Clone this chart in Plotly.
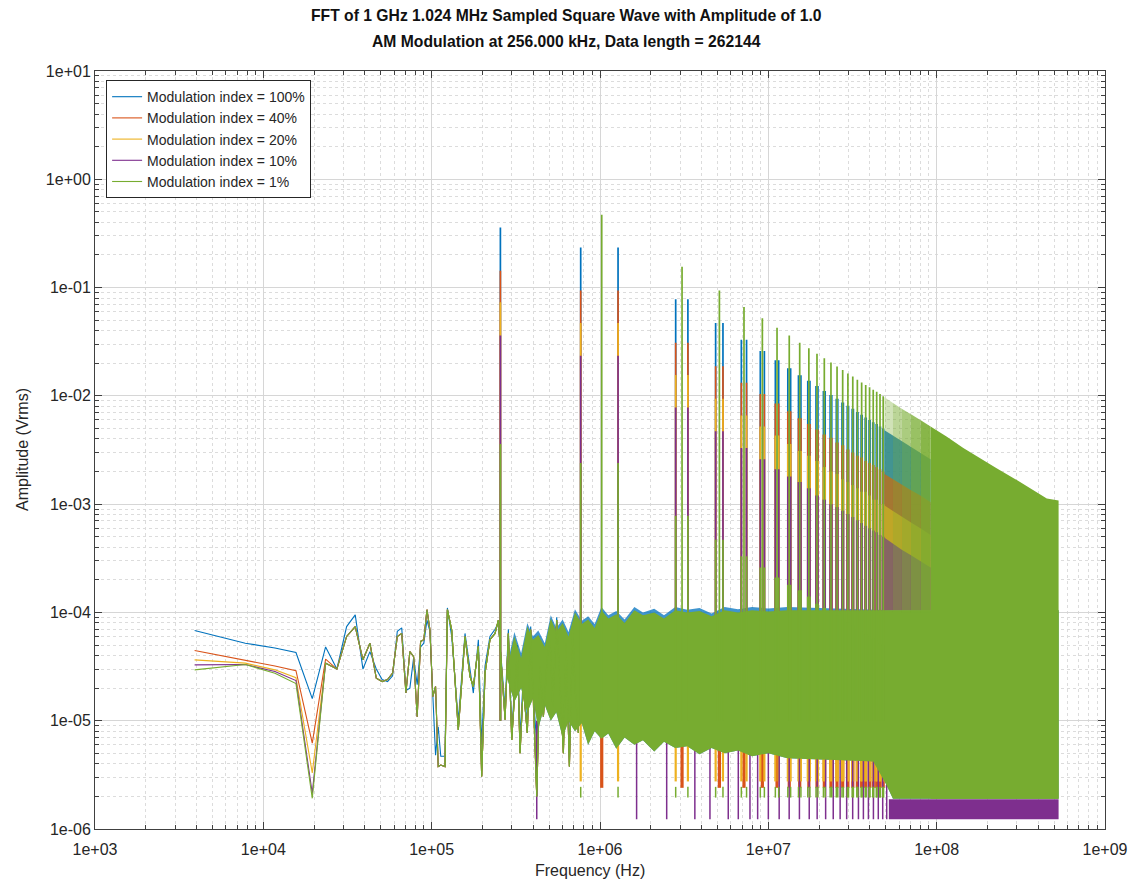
import plotly.graph_objects as go

# ---------------- data ----------------
series_names = ["Modulation index = 100%", "Modulation index = 40%",
                "Modulation index = 20%", "Modulation index = 10%",
                "Modulation index = 1%"]
series_colors = ["#0072BD", "#D95319", "#EDB120", "#7E2F8E", "#77AC30"]

x_tick_vals = [1e3, 1e4, 1e5, 1e6, 1e7, 1e8, 1e9]
x_tick_text = ["1e+03", "1e+04", "1e+05", "1e+06", "1e+07", "1e+08", "1e+09"]
y_tick_vals = [1e-6, 1e-5, 1e-4, 1e-3, 1e-2, 1e-1, 1e0, 1e1]
y_tick_text = ["1e-06", "1e-05", "1e-04", "1e-03", "1e-02", "1e-01", "1e+00", "1e+01"]

# low-frequency FFT bins (Hz) and amplitudes (Vrms)
lf_freq = [3906, 7813, 11719, 15625, 19531, 23438, 27344, 31250, 35156, 39063,
           42969, 46875, 50781, 54688, 58594, 62500, 66406, 70313, 74219, 78125,
           82031, 85938, 89844, 93750, 97656, 101563, 105469, 109375, 113281]
lf_blue = [6.8e-5, 5.2e-5, 4.7e-5, 4.26e-5, 1.6e-5, 4.8e-5, 3.0e-5, 7.4e-5, 9.5e-5, 3.0e-5,
           4.35e-5, 3.0e-5, 2.4e-5, 2.3e-5, 2.6e-5, 6.7e-5, 7.2e-5, 1.9e-5, 2.0e-5, 3.8e-5,
           2.15e-5, 4.8e-5, 5.2e-5, 8.5e-5, 6.7e-5, 1.55e-5, 4.8e-6, 8.8e-6, 4.7e-6]
lf_orange_head = [4.45e-5, 3.65e-5, 3.2e-5, 2.9e-5, 6.2e-6, 3.7e-5]
lf_yellow_head = [3.65e-5, 3.4e-5, 2.95e-5, 2.5e-5, 3.3e-6]
lf_purple_head = [3.28e-5, 3.3e-5, 2.85e-5, 2.35e-5, 2.14e-6]
lf_green = [2.95e-5, 3.3e-5, 2.75e-5, 2.2e-5, 1.92e-6, 3.4e-5, 3.0e-5, 6.0e-5, 7.4e-5, 3.65e-5,
            5.2e-5, 2.47e-5, 2.3e-5, 2.4e-5, 2.75e-5, 6.0e-5, 6.4e-5, 1.8e-5, 4.35e-5, 3.9e-5,
            1.09e-5, 5.4e-5, 5.6e-5, 1.06e-4, 6.9e-5, 1.67e-5, 2.07e-5, 3.77e-6, 3.9e-6]

# mid-band noise (read as a zig-zag), Hz / Vrms
mid_freq = [1.20e5, 1.24e5, 1.315e5, 1.44e5, 1.578e5, 1.69e5, 1.768e5, 1.894e5, 1.982e5, 2.075e5,
            2.22e5, 2.379e5, 2.49e5, 2.73e5, 2.855e5, 2.99e5, 3.23e5, 3.35e5, 3.50e5, 3.70e5,
            3.875e5, 4.055e5, 4.21e5, 4.40e5, 4.61e5, 4.87e5, 5.05e5, 5.24e5, 5.53e5, 5.79e5,
            6.06e5, 6.28e5, 6.58e5, 6.88e5, 7.1e5, 7.44e5]
mid_val = [3.77e-6, 1.06e-4, 6.9e-5, 8.2e-6, 6.0e-5, 2.56e-5, 2.07e-5, 4.85e-5, 3.05e-6, 2.75e-5,
           5.6e-5, 6.4e-5, 8.5e-5, 1.02e-5, 6.4e-5, 6.65e-6, 4.5e-5, 5.0e-6, 2.07e-5, 7.7e-6,
           6.9e-5, 1.17e-5, 2.0e-6, 3.16e-5, 1.09e-5, 3.9e-5, 5.6e-5, 1.35e-5, 8.5e-5, 2.07e-5,
           5.0e-6, 5.2e-5, 3.77e-6, 7.4e-5, 2.07e-5, 7.7e-6]
mid_blue_val = [4.7e-6, 1.1e-4, 6.0e-5, 1.0e-5, 6.4e-5, 3.0e-5, 1.8e-5, 5.6e-5, 6.0e-6, 3.2e-5,
                6.0e-5, 7.0e-5, 8.0e-5, 1.3e-5, 7.0e-5, 8.0e-6, 5.0e-5, 7.0e-6, 2.5e-5, 9.0e-6,
                7.4e-5, 1.4e-5, 6.0e-6, 3.6e-5, 1.3e-5, 4.4e-5, 6.4e-5, 1.6e-5, 9.0e-5, 2.5e-5,
                6.5e-6, 5.8e-5, 5.0e-6, 8.0e-5, 2.4e-5, 9.0e-6]

# dense noise band envelope (Hz / Vrms)
band_freq = [2.8e5, 3.1e5, 3.4e5, 3.7e5, 4.0e5, 4.3e5, 4.7e5, 5.1e5, 5.5e5, 6.0e5,
             6.5e5, 7.1e5, 7.8e5, 8.5e5, 9.3e5, 1.02e6, 1.12e6, 1.25e6, 1.4e6, 1.6e6,
             1.8e6, 2.1e6, 2.4e6, 2.8e6, 3.3e6, 3.9e6, 4.6e6, 5.5e6, 6.6e6, 8.0e6,
             1.0e7, 1.3e7, 2.0e7, 3.0e7, 4.2e7, 5.0e7, 5.5e7, 1.0e8, 2.0e8, 5.3e8]
green_band_hi = [3.0e-5, 6.0e-5, 3.8e-5, 7.4e-5, 5.6e-5, 6.2e-5, 4.8e-5, 8.8e-5, 6.6e-5, 8.0e-5,
                 6.0e-5, 1.0e-4, 7.8e-5, 8.6e-5, 7.2e-5, 1.05e-4, 8.8e-5, 9.6e-5, 8.0e-5, 1.05e-4,
                 9.4e-5, 1.0e-4, 8.8e-5, 1.05e-4, 1.0e-4, 1.03e-4, 9.2e-5, 1.05e-4, 1.0e-4, 1.05e-4,
                 1.02e-4, 1.05e-4, 1.05e-4, 1.05e-4, 1.05e-4, 1.05e-4, 1.05e-4, 1.05e-4, 1.05e-4, 1.05e-4]
green_band_lo = [2.5e-5, 1.5e-5, 2.0e-5, 1.2e-5, 1.6e-5, 8.5e-6, 1.4e-5, 1.0e-5, 1.2e-5, 7.0e-6,
                 1.0e-5, 8.0e-6, 9.5e-6, 6.0e-6, 8.0e-6, 6.8e-6, 7.6e-6, 5.5e-6, 7.0e-6, 6.0e-6,
                 6.6e-6, 5.2e-6, 6.4e-6, 5.6e-6, 5.8e-6, 4.9e-6, 5.6e-6, 5.0e-6, 5.3e-6, 4.7e-6,
                 5.0e-6, 4.5e-6, 4.4e-6, 4.3e-6, 4.2e-6, 2.6e-6, 1.9e-6, 1.9e-6, 1.9e-6, 1.9e-6]
blue_band_hi = [3.2e-5, 6.6e-5, 4.2e-5, 8.0e-5, 6.0e-5, 6.8e-5, 5.2e-5, 9.4e-5, 7.2e-5, 8.6e-5,
                6.6e-5, 1.07e-4, 8.4e-5, 9.2e-5, 7.8e-5, 1.12e-4, 9.4e-5, 1.03e-4, 8.6e-5, 1.12e-4,
                1.0e-4, 1.08e-4, 9.4e-5, 1.12e-4, 1.06e-4, 1.1e-4, 9.8e-5, 1.12e-4, 1.07e-4, 1.12e-4,
                1.09e-4, 1.12e-4, 1.1e-4, 1.08e-4, 1.06e-4, 1.05e-4, 1.05e-4, 1.05e-4, 1.05e-4, 1.05e-4]

# lower fringes of the 40% / 20% / 1% traces near each harmonic cluster
fringe_top = 1.0e-5
orange_fringe_bottom = 2.4e-6
yellow_fringe_bottom = 2.75e-6
green_tail_top = 2.45e-6
green_tail_bottom = 1.95e-6

# 10% trace: deep dips and bottom floor
purple_dip_freq = [4.21e5, 1.65e6, 2.49e6, 3.66e6, 4.5e6, 5.78e6, 6.63e6, 7.78e6, 8.64e6, 1.0e7,
                   1.16e7, 1.33e7, 1.53e7, 1.75e7, 1.95e7, 2.19e7, 2.43e7, 2.67e7, 2.92e7, 3.17e7,
                   3.43e7, 3.67e7, 3.93e7, 4.21e7, 4.5e7, 4.78e7, 5.05e7]
purple_dip_top = 1.0e-5
purple_dip_bottom = 1.23e-6
purple_floor_freq = [5.2e7, 5.3e8]
purple_floor_lo = [1.23e-6, 1.23e-6]
purple_floor_hi = [1.88e-6, 1.88e-6]

# spectral lines
mod_freq_mhz = 0.256
dc_sideband_amp = [0.359, 0.143, 0.073, 0.036, 0.0036]   # line at 256 kHz per series
harm_mhz = [1.024, 3.072, 5.12, 7.168, 9.216, 11.264, 13.312, 15.36, 17.408, 19.456,
            21.504, 23.552, 25.6, 27.648, 29.696, 31.744, 33.792, 35.84, 37.888, 39.936,
            41.984, 44.032, 46.08, 48.128]
carrier_amp = [0.47, 0.156, 0.094, 0.066, 0.052, 0.0425, 0.036, 0.031, 0.0275, 0.0245,
               0.0222, 0.0203, 0.0187, 0.0173, 0.0161, 0.0151, 0.0141, 0.0133, 0.0126, 0.012,
               0.0114, 0.0109, 0.0104, 0.0099]
sideband_amp = [
    [0.235, 0.078, 0.047, 0.033, 0.026, 0.0213, 0.018, 0.0155, 0.0138, 0.0123,
     0.0111, 0.0102, 0.0094, 0.0087, 0.0081, 0.0076, 0.0071, 0.0067, 0.0063, 0.006,
     0.0057, 0.0055, 0.0052, 0.005],
    [0.094, 0.031, 0.0188, 0.0132, 0.0104, 0.0085, 0.0072, 0.0062, 0.0055, 0.0049,
     0.0044, 0.0041, 0.0037, 0.0035, 0.0032, 0.003, 0.0028, 0.0027, 0.0025, 0.0024,
     0.0023, 0.0022, 0.0021, 0.002],
    [0.047, 0.0156, 0.0094, 0.0066, 0.0052, 0.0043, 0.0036, 0.0031, 0.0028, 0.0025,
     0.0022, 0.002, 0.0019, 0.0017, 0.0016, 0.0015, 0.0014, 0.0013, 0.0013, 0.0012,
     0.0011, 0.0011, 0.001, 0.001],
    [0.0235, 0.0078, 0.0047, 0.0033, 0.0026, 0.0021, 0.0018, 0.0016, 0.0014, 0.0012,
     0.0011, 0.001, 0.00094, 0.00087, 0.00081, 0.00076, 0.00071, 0.00067, 0.00063, 0.0006,
     0.00057, 0.00055, 0.00052, 0.0005],
    [0.0024, 0.00078, 0.00047, 0.00033, 0.00026, 0.00021, 0.00018, 0.00016, 0.00014, 0.00012,
     0.00011, 0.0001, 9.4e-5, 8.7e-5, 8.1e-5, 7.6e-5, 7.1e-5, 6.7e-5, 6.3e-5, 6.0e-5,
     5.7e-5, 5.5e-5, 5.2e-5, 5.0e-5],
]
spike_base = 1.0e-5

# densely packed lines (upper envelopes)
dense_freq = [4.9e7, 5.5e7, 6.2e7, 7.0e7, 8.0e7, 9.2e7]
dense_sideband_env = [
    [4.8e-3, 4.3e-3, 3.8e-3, 3.4e-3, 3.0e-3, 2.6e-3],
    [1.9e-3, 1.7e-3, 1.5e-3, 1.35e-3, 1.2e-3, 1.04e-3],
    [9.7e-4, 8.6e-4, 7.6e-4, 6.8e-4, 6.0e-4, 5.2e-4],
    [4.9e-4, 4.3e-4, 3.8e-4, 3.4e-4, 3.0e-4, 2.6e-4],
]
dense_carrier_env = [9.7e-3, 8.6e-3, 7.6e-3, 6.8e-3, 6.0e-3, 5.2e-3]
tail_freq = [9.2e7, 1.15e8, 1.44e8, 1.8e8, 2.27e8, 2.9e8, 3.59e8, 4.51e8, 5.3e8]
tail_carrier_env = [5.2e-3, 4.2e-3, 3.3e-3, 2.65e-3, 2.15e-3, 1.72e-3, 1.41e-3, 1.13e-3, 1.08e-3]
tail_floor = 1.9e-6

# ---------------- figure ----------------
FONT = "Liberation Sans, Arial, Helvetica, sans-serif"
fig = go.Figure()


def add_line(x, y, color, width=1.0, name=None, show=False, group=None):
    fig.add_trace(go.Scatter(x=x, y=y, mode="lines", name=name, showlegend=show,
                             legendgroup=group, hoverinfo="skip",
                             line=dict(color=color, width=width)))


def add_poly(xs, lo, hi, color, group):
    px = list(xs) + list(xs)[::-1]
    py = list(hi) + list(lo)[::-1]
    fig.add_trace(go.Scatter(x=px, y=py, mode="lines", fill="toself", fillcolor=color,
                             line=dict(width=0, color=color), showlegend=False,
                             legendgroup=group, hoverinfo="skip"))


def spikes(freqs, base, tops):
    xs, ys = [], []
    for f, t in zip(freqs, tops):
        xs += [f, f, None]
        ys += [base, t, None]
    return xs, ys


def rgba(hex_color, a):
    h = hex_color.lstrip("#")
    return "rgba(%d,%d,%d,%.2f)" % (int(h[0:2], 16), int(h[2:4], 16), int(h[4:6], 16), a)


lf_series = [
    lf_blue,
    lf_orange_head + lf_green[len(lf_orange_head):],
    lf_yellow_head + lf_green[len(lf_yellow_head):],
    lf_purple_head + lf_green[len(lf_purple_head):],
    lf_green,
]
mid_series = [mid_blue_val, mid_val, mid_val, mid_val, mid_val]

sb_lo_hz = [(f - mod_freq_mhz) * 1e6 for f in harm_mhz]
sb_hi_hz = [(f + mod_freq_mhz) * 1e6 for f in harm_mhz]
harm_hz = [f * 1e6 for f in harm_mhz]
sb_all_hz = sb_lo_hz + sb_hi_hz
overlay_alpha = [0.35, 0.5, 0.62, 0.75, 0.88]

for i in range(5):
    c = series_colors[i]
    g = "s%d" % i
    # legend-bearing main trace
    add_line(lf_freq + mid_freq, lf_series[i] + mid_series[i], c, 1.1, series_names[i], True, g)
    if i == 0:
        add_poly(band_freq, green_band_lo, blue_band_hi, rgba(c, 0.75), g)
    if i == 1:
        xs, ys = spikes(harm_hz, fringe_top, [orange_fringe_bottom] * len(harm_hz))
        add_line(xs, ys, c, 3.2, group=g)
    if i == 2:
        xs, ys = spikes(sb_all_hz, fringe_top, [yellow_fringe_bottom] * len(sb_all_hz))
        add_line(xs, ys, c, 2.2, group=g)
    if i == 3:
        xs, ys = spikes(purple_dip_freq, purple_dip_top, [purple_dip_bottom] * len(purple_dip_freq))
        add_line(xs, ys, c, 1.5, group=g)
        add_poly(purple_floor_freq, purple_floor_lo, purple_floor_hi, c, g)
    if i == 4:
        add_poly(band_freq, green_band_lo, green_band_hi, c, g)
        add_line(mid_freq, mid_val, c, 1.1, group=g)
        xs, ys = spikes(sb_all_hz, green_tail_top, [green_tail_bottom] * len(sb_all_hz))
        add_line(xs, ys, c, 1.5, group=g)
    # dense sideband region
    if i < 4:
        add_poly(dense_freq, [1.05e-4] * len(dense_freq), dense_sideband_env[i], rgba(c, 0.85), g)
    # 256 kHz line
    xs, ys = spikes([mod_freq_mhz * 1e6], spike_base, [dc_sideband_amp[i]])
    add_line(xs, ys, c, 1.7, group=g)
    # sidebands around each odd harmonic
    xs, ys = spikes(sb_all_hz, spike_base, sideband_amp[i] + sideband_amp[i])
    add_line(xs, ys, c, 1.7, group=g)
    if i == 4:
        xs, ys = spikes(harm_hz, spike_base, carrier_amp)
        add_line(xs, ys, c, 1.7, group=g)
        for k in range(len(dense_freq) - 1):
            add_poly(dense_freq[k:k + 2], [1.0e-4, 1.0e-4], dense_carrier_env[k:k + 2],
                     rgba(c, overlay_alpha[k]), g)
        add_poly(tail_freq, [tail_floor] * len(tail_freq), tail_carrier_env, c, g)

minor_x = [k * 10 ** d for d in range(3, 9) for k in range(2, 10)]
minor_y = [k * 10.0 ** d for d in range(-6, 1) for k in range(2, 10)]

axis_style = dict(
    type="log", showline=True, mirror="allticks", linecolor="#404040", linewidth=1,
    ticks="inside", ticklen=7, tickcolor="#404040", tickwidth=1, automargin=False,
    showgrid=True, gridcolor="#d6d6d6", gridwidth=1, zeroline=False,
    tickfont=dict(family=FONT, size=16, color="#262626"),
)

fig.update_xaxes(**axis_style, range=[3, 9], tickmode="array", tickvals=x_tick_vals,
                 ticktext=x_tick_text, ticklabelstandoff=6,
                 minor=dict(tickmode="array", tickvals=minor_x, ticks="inside", ticklen=4,
                            tickcolor="#404040", showgrid=True, gridcolor="#dcdcdc",
                            griddash="dot", gridwidth=1))
fig.update_yaxes(**axis_style, range=[-6, 1], tickmode="array", tickvals=y_tick_vals,
                 ticktext=y_tick_text,
                 minor=dict(tickmode="array", tickvals=minor_y, ticks="inside", ticklen=4,
                            tickcolor="#404040", showgrid=True, gridcolor="#dcdcdc",
                            griddash="dot", gridwidth=1))

fig.update_layout(
    width=1132, height=882,
    margin=dict(l=95, r=27, t=71, b=53),
    plot_bgcolor="white", paper_bgcolor="white",
    font=dict(family=FONT, color="#262626"),
    showlegend=True,
    legend=dict(x=0.011, y=0.988, xanchor="left", yanchor="top", bgcolor="white",
                bordercolor="#262626", borderwidth=1, tracegroupgap=0,
                font=dict(size=14, color="#262626")),
    annotations=[
        dict(text="<b>FFT of 1 GHz 1.024 MHz Sampled Square Wave with Amplitude of 1.0</b>",
             xref="paper", yref="paper", x=(566 - 95) / 1010, y=1 + 56 / 758,
             xanchor="center", yanchor="middle", showarrow=False,
             font=dict(size=15.7, color="#111111")),
        dict(text="<b>AM Modulation at 256.000 kHz, Data length = 262144</b>",
             xref="paper", yref="paper", x=(566 - 95) / 1010, y=1 + 29 / 758,
             xanchor="center", yanchor="middle", showarrow=False,
             font=dict(size=15.7, color="#111111")),
        dict(text="Frequency (Hz)", xref="paper", yref="paper", x=0.49, y=-41 / 758,
             xanchor="center", yanchor="middle", showarrow=False,
             font=dict(size=16, color="#262626")),
        dict(text="Amplitude (Vrms)", xref="paper", yref="paper", x=-73 / 1010, y=0.5,
             xanchor="center", yanchor="middle", showarrow=False, textangle=-90,
             font=dict(size=16, color="#262626")),
    ],
)

fig.write_html("out.html")
